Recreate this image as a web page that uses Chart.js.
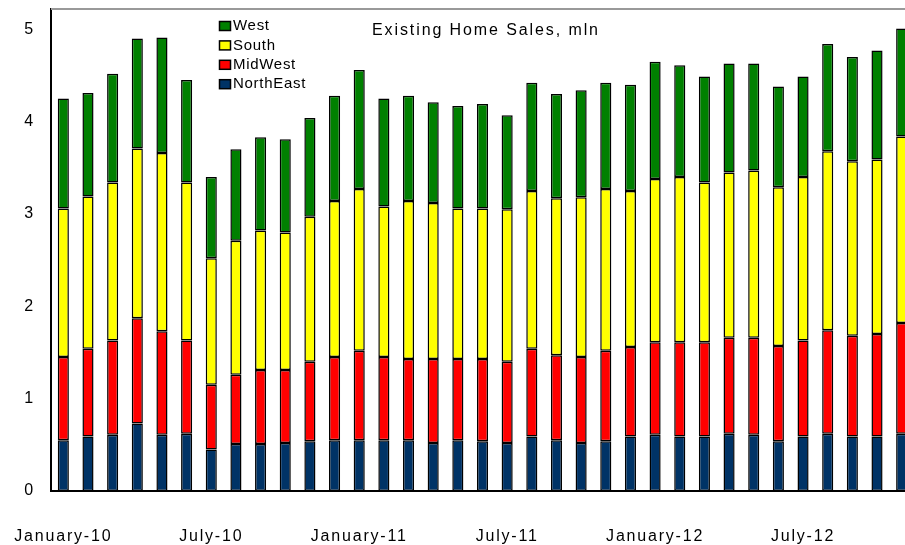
<!DOCTYPE html>
<html>
<head>
<meta charset="utf-8">
<script src="https://cdn.jsdelivr.net/npm/chart.js@4"></script>
<style>
  html, body { margin: 0; padding: 0; background: #fff; overflow: hidden; }
  #wrap { width: 915px; height: 545px; position: relative; }
</style>
</head>
<body>
<div id="wrap"><canvas id="myChart"></canvas></div>
<script>
const months = [
  'January-10', 'February-10', 'March-10', 'April-10', 'May-10', 'June-10',
  'July-10', 'August-10', 'September-10', 'October-10', 'November-10', 'December-10',
  'January-11', 'February-11', 'March-11', 'April-11', 'May-11', 'June-11',
  'July-11', 'August-11', 'September-11', 'October-11', 'November-11', 'December-11',
  'January-12', 'February-12', 'March-12', 'April-12', 'May-12', 'June-12',
  'July-12', 'August-12', 'September-12', 'October-12', 'November-12'
];

// mln
const northEast = [0.55, 0.59, 0.61, 0.73, 0.61, 0.62, 0.45, 0.51, 0.51, 0.52, 0.54, 0.55,
  0.55, 0.55, 0.55, 0.52, 0.55, 0.54, 0.52, 0.59, 0.55, 0.52, 0.54, 0.59,
  0.61, 0.59, 0.59, 0.62, 0.61, 0.54, 0.59, 0.62, 0.59, 0.59, 0.62];
const midWest = [0.90, 0.95, 1.02, 1.14, 1.12, 1.01, 0.70, 0.75, 0.80, 0.79, 0.86, 0.90,
  0.97, 0.90, 0.88, 0.91, 0.88, 0.89, 0.88, 0.95, 0.92, 0.93, 0.98, 0.97,
  1.00, 1.02, 1.02, 1.04, 1.05, 1.03, 1.04, 1.12, 1.09, 1.11, 1.20];
const south = [1.61, 1.65, 1.71, 1.84, 1.93, 1.71, 1.37, 1.45, 1.51, 1.49, 1.57, 1.69,
  1.75, 1.63, 1.71, 1.69, 1.63, 1.63, 1.65, 1.71, 1.70, 1.73, 1.75, 1.69,
  1.77, 1.79, 1.73, 1.79, 1.81, 1.72, 1.77, 1.94, 1.89, 1.89, 2.02];
const west = [1.19, 1.12, 1.18, 1.19, 1.25, 1.11, 0.88, 0.99, 1.01, 1.01, 1.07, 1.14,
  1.29, 1.17, 1.14, 1.09, 1.11, 1.13, 1.02, 1.17, 1.13, 1.16, 1.15, 1.15,
  1.27, 1.21, 1.15, 1.18, 1.16, 1.09, 1.09, 1.16, 1.13, 1.18, 1.17];

const yTicks = [0, 1, 2, 3, 4, 5];
const chartTitle = 'Existing Home Sales, mln';

const FONT = '"Liberation Sans", Arial, sans-serif';

// legend + title drawn inside the plot, plus the grey frame line on top
const extras = {
  id: 'extras',
  beforeDraw(chart) {
    chart.ctx.letterSpacing = '1.8px';
  },
  afterDraw(chart) {
    const ctx = chart.ctx;
    const area = chart.chartArea;
    ctx.save();
    ctx.strokeStyle = '#999';
    ctx.lineWidth = 2;
    ctx.beginPath();
    ctx.moveTo(area.left, area.top);
    ctx.lineTo(area.right, area.top);
    ctx.lineTo(area.right, area.bottom);
    ctx.stroke();

    ctx.fillStyle = '#000';
    ctx.font = '16px ' + FONT;
    ctx.letterSpacing = '1.9px';
    ctx.textBaseline = 'middle';
    ctx.textAlign = 'left';
    ctx.fillText(chartTitle, 372, 31);

    ctx.font = '15px ' + FONT;
    ctx.letterSpacing = '0.7px';
    const sets = chart.data.datasets.slice().reverse();
    sets.forEach(function (ds, i) {
      const y = 26 + i * 19.4;
      ctx.fillStyle = ds.backgroundColor;
      ctx.fillRect(219.5, y - 4.5, 11, 9);
      ctx.strokeStyle = '#000';
      ctx.lineWidth = 1.5;
      ctx.strokeRect(219.5, y - 4.5, 11, 9);
      ctx.fillStyle = '#000';
      ctx.fillText(ds.label, 233, y);
    });
    ctx.restore();
  }
};

function region(label, data, color) {
  return {
    label: label,
    data: data,
    backgroundColor: color,
    borderColor: '#000',
    borderWidth: 1.5,
    borderSkipped: false,
    barPercentage: 0.9,
    categoryPercentage: 0.5
  };
}

new Chart(document.getElementById('myChart'), {
  type: 'bar',
  data: {
    labels: months,
    datasets: [
      region('NorthEast', northEast, '#003366'),
      region('MidWest', midWest, '#ff0000'),
      region('South', south, '#ffff00'),
      region('West', west, '#008000')
    ]
  },
  options: {
    responsive: true,
    maintainAspectRatio: false,
    animation: false,
    layout: { padding: { top: 9, right: 1, left: 0, bottom: 0 } },
    plugins: {
      legend: { display: false },
      title: { display: false },
      tooltip: { enabled: false }
    },
    scales: {
      x: {
        stacked: true,
        grid: { display: false, drawTicks: false },
        border: { display: true, color: '#000', width: 2 },
        ticks: {
          autoSkip: false,
          maxRotation: 0,
          padding: 36,
          color: '#000',
          font: { family: FONT, size: 16 },
          callback: function (v, i) { return i % 6 === 0 ? months[i] : ''; }
        },
        afterFit: function (s) {
          s.height = 54;
          s.paddingLeft = 0;
          s.paddingRight = 0;
        }
      },
      y: {
        stacked: true,
        min: 0,
        max: 5.22,
        grid: { display: false, drawTicks: false },
        border: { display: true, color: '#000', width: 2 },
        afterBuildTicks: function (s) { s.ticks = yTicks.map(function (v) { return { value: v }; }); },
        ticks: {
          padding: 16,
          color: '#000',
          font: { family: FONT, size: 16 }
        },
        afterFit: function (s) {
          s.width = 51;
          s.paddingTop = 0;
          s.paddingBottom = 0;
        }
      }
    }
  },
  plugins: [extras]
});
</script>
</body>
</html>
